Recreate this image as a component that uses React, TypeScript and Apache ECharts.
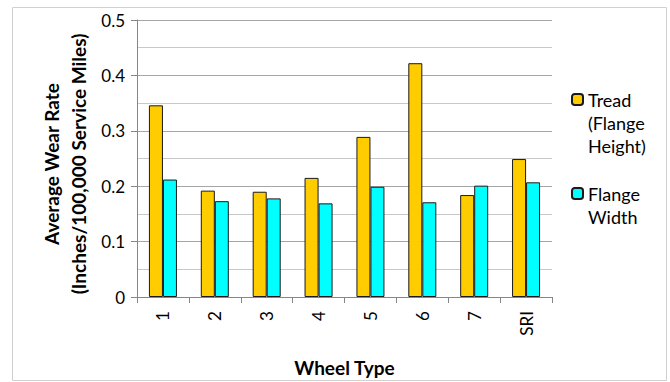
import React, { useEffect, useRef } from "react";
import * as echarts from "echarts";

const categories = ["1", "2", "3", "4", "5", "6", "7", "SRI"];
const treadValues = [0.346, 0.192, 0.19, 0.215, 0.289, 0.422, 0.184, 0.249];
const flangeValues = [0.212, 0.173, 0.178, 0.169, 0.199, 0.171, 0.201, 0.207];
const seriesNames = ["Tread (Flange Height)", "Flange Width"];
const legendLabels = ["\n\nTread\n(Flange\nHeight)", "\nFlange\nWidth"];
const yTitleLines = ["Average Wear Rate", "(Inches/100,000 Service Miles)"];
const xTitle = "Wheel Type";

const FONT = "Lato, 'Open Sans', sans-serif";

export default function App() {
  const ref = useRef<HTMLDivElement>(null);
  useEffect(() => {
    if (!ref.current) return;
    const chart = echarts.init(ref.current, undefined, { renderer: "svg" });
    chart.setOption({
      animation: false,
      backgroundColor: "#fff",
      textStyle: { fontFamily: FONT },
      grid: { left: 137, right: 118, top: 20, bottom: 85 },
      xAxis: {
        type: "category",
        data: categories,
        name: xTitle,
        nameLocation: "middle",
        nameGap: 61,
        nameTextStyle: { fontFamily: FONT, fontSize: 19, fontWeight: "bold", color: "#000" },
        axisLine: { lineStyle: { color: "#868686", width: 1 } },
        axisTick: { show: true, length: 6, lineStyle: { color: "#868686" } },
        axisLabel: { rotate: 90, margin: 14, fontSize: 17, color: "#000", fontFamily: FONT },
      },
      yAxis: {
        type: "value",
        min: 0,
        max: 0.5,
        interval: 0.1,
        axisLine: { show: true, lineStyle: { color: "#868686", width: 1 } },
        axisTick: { show: true, length: 6, lineStyle: { color: "#868686" } },
        axisLabel: {
          fontSize: 17,
          color: "#000",
          margin: 12,
          fontFamily: FONT,
          formatter: (v: number) => (v === 0 ? "0" : String(Math.round(v * 10) / 10)),
        },
        splitLine: { show: true, lineStyle: { color: "#A6A6A6", width: 1 } },
        minorTick: { show: false, splitNumber: 2 },
        minorSplitLine: { show: true, lineStyle: { color: "#C8C8C8", width: 1 } },
      },
      legend: {
        orient: "vertical",
        left: 571,
        top: 42,
        padding: 0,
        itemGap: 2,
        itemWidth: 11,
        itemHeight: 11,
        textStyle: { fontSize: 18, color: "#000", lineHeight: 23, fontFamily: FONT },
        formatter: (name: string) => legendLabels[seriesNames.indexOf(name)],
        data: seriesNames,
      },
      graphic: [
        {
          type: "rect",
          shape: { x: 12.5, y: 7.5, width: 654, height: 373 },
          style: { fill: "none", stroke: "#D0D0D0", lineWidth: 1 },
          silent: true,
          z: -10,
        },
        {
          type: "text",
          x: 65,
          y: 164,
          rotation: Math.PI / 2,
          style: {
            text: yTitleLines.join("\n"),
            fontFamily: FONT,
            fontSize: 19,
            fontWeight: "bold",
            fill: "#000",
            align: "center",
            verticalAlign: "middle",
            lineHeight: 27,
          },
        },
      ],
      series: [
        {
          name: seriesNames[0],
          type: "bar",
          data: treadValues,
          barGap: "0%",
          barCategoryGap: "46%",
          itemStyle: { color: "#FFCC00", borderColor: "#1a1a1a", borderWidth: 1 },
        },
        {
          name: seriesNames[1],
          type: "bar",
          data: flangeValues,
          barGap: "0%",
          barCategoryGap: "46%",
          itemStyle: { color: "#00FFFF", borderColor: "#1a1a1a", borderWidth: 1 },
        },
      ],
    });
    return () => chart.dispose();
  }, []);
  return (
    <div
      ref={ref}
      style={{ position: "fixed", left: 0, top: 0, width: 670, height: 382 }}
    />
  );
}
